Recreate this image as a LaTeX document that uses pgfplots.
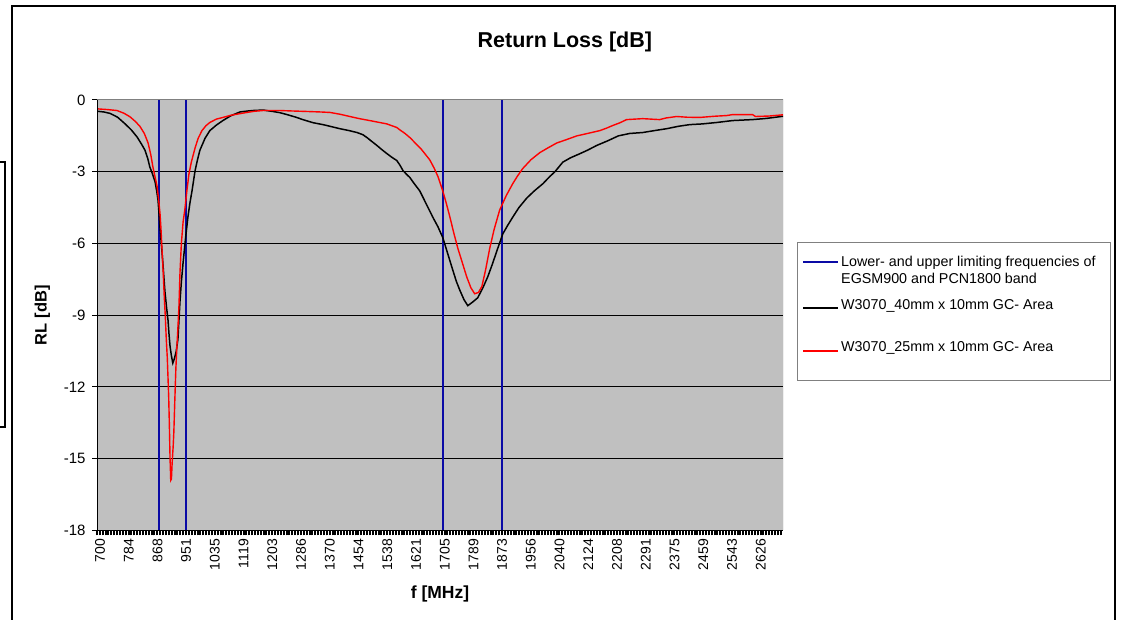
\documentclass[border=0pt]{standalone}
\usepackage{fontspec}
\setmainfont{Liberation Sans}
\usepackage{pgfplots}
\pgfplotsset{compat=1.18}
\definecolor{plotgray}{RGB}{192,192,192}
\definecolor{navyline}{RGB}{10,10,165}
\definecolor{bordergray}{RGB}{128,128,128}
\begin{document}
\begin{tikzpicture}
\useasboundingbox (0pt,0pt) rectangle (1121pt,620pt);
\begin{axis}[
  at={(97pt,89.5pt)}, anchor=south west,
  scale only axis, width=686pt, height=430.5pt,
  xmin=700, xmax=2700, ymin=-18, ymax=0,
  axis background/.style={fill=plotgray},
  axis line style={draw=none},
  tick pos=left, tick align=outside,
  major tick length=5pt, minor tick length=5pt,
  xtick style={black, line width=2pt},
  minor x tick style={black, line width=2pt},
  ytick style={black, line width=1pt},
  xtick={700,783.75,...,2626.25},
  xticklabels={700,784,868,951,1035,1119,1203,1286,1370,1454,1538,1621,1705,1789,1873,1956,2040,2124,2208,2291,2375,2459,2543,2626},
  minor xtick={708.375,716.75,...,2700},
  ytick={-18,-15,...,0},
  yticklabels={-18,-15,-12,-9,-6,-3,0},
  ymajorgrids, grid style={black, line width=1pt},
  xticklabel style={rotate=90, anchor=east, yshift=-3pt, font=\fontsize{14}{16}\selectfont},
  yticklabel style={xshift=-3pt, font=\fontsize{15}{17}\selectfont},
  title={Return Loss [dB]},
  title style={at={(axis description cs:0.682,1.12)}, anchor=center, font=\bfseries\fontsize{21.5}{24}\selectfont},
  xlabel={f [MHz]},
  xlabel style={at={(axis description cs:0.5,-0.148)}, anchor=center, font=\bfseries\fontsize{17.5}{19}\selectfont},
  ylabel={RL [dB]},
  ylabel style={at={(axis description cs:-0.0795,0.5)}, anchor=center, font=\bfseries\fontsize{16.5}{18}\selectfont},
]
\addplot[color=navyline, line width=2pt] coordinates {(880,-18) (880,0)};
\addplot[color=navyline, line width=2pt] coordinates {(960,-18) (960,0)};
\addplot[color=navyline, line width=2pt] coordinates {(1710,-18) (1710,0)};
\addplot[color=navyline, line width=2pt] coordinates {(1880,-18) (1880,0)};
\addplot[color=black, line width=1.5pt] coordinates {
(700,-0.47) (720,-0.5) (738,-0.56) (760,-0.72) (782,-1.0) (800,-1.25) (817,-1.55) (830,-1.85) (840,-2.1) (848,-2.45) (854,-2.8) (862,-3.1) (869,-3.4) (874,-3.8) (878,-4.2) (881,-4.8) (884,-5.4) (888,-6.1) (892,-6.8) (895,-7.4) (898,-8.0) (903,-8.7) (907,-9.2) (910,-9.8) (913,-10.3) (917,-10.7) (921,-11.0) (926,-10.8) (931,-10.5) (936,-10.0) (939,-9.2) (942,-8.4) (946,-7.6) (951,-6.8) (958,-5.8) (965,-4.9) (971,-4.3) (977,-3.8) (986,-2.95) (993,-2.5) (1000,-2.1) (1015,-1.6) (1029,-1.28) (1048,-1.05) (1067,-0.86) (1090,-0.66) (1117,-0.5) (1140,-0.46) (1155,-0.44) (1184,-0.42) (1213,-0.48) (1233,-0.53) (1254,-0.61) (1280,-0.72) (1300,-0.82) (1330,-0.95) (1359,-1.03) (1385,-1.12) (1408,-1.2) (1435,-1.28) (1458,-1.36) (1475,-1.45) (1487,-1.57) (1500,-1.72) (1516,-1.9) (1530,-2.07) (1545,-2.24) (1560,-2.4) (1574,-2.53) (1583,-2.72) (1592,-2.95) (1602,-3.1) (1612,-3.24) (1625,-3.5) (1641,-3.8) (1660,-4.35) (1679,-4.9) (1694,-5.3) (1708,-5.75) (1722,-6.4) (1737,-7.1) (1748,-7.6) (1758,-7.96) (1770,-8.35) (1781,-8.6) (1795,-8.45) (1810,-8.27) (1825,-7.85) (1839,-7.4) (1853,-6.85) (1866,-6.3) (1883,-5.6) (1897,-5.25) (1912,-4.9) (1930,-4.5) (1953,-4.1) (1975,-3.8) (2000,-3.5) (2020,-3.2) (2035,-3.0) (2058,-2.6) (2080,-2.42) (2107,-2.25) (2130,-2.1) (2157,-1.9) (2190,-1.7) (2220,-1.5) (2253,-1.4) (2291,-1.36) (2325,-1.28) (2361,-1.2) (2395,-1.1) (2428,-1.03) (2465,-1.0) (2507,-0.94) (2553,-0.86) (2611,-0.82) (2652,-0.77) (2700,-0.68)
};
\addplot[color=red, line width=1.4pt] coordinates {
(700,-0.37) (730,-0.4) (758,-0.44) (778,-0.55) (796,-0.7) (812,-0.9) (825,-1.1) (838,-1.4) (849,-1.8) (857,-2.3) (863,-2.8) (869,-3.2) (875,-3.6) (880,-4.2) (884,-4.8) (887,-5.5) (890,-6.4) (893,-7.2) (896,-8.2) (899,-9.0) (902,-10.0) (905,-10.8) (907,-11.6) (909,-12.4) (911,-13.6) (913,-15.0) (915,-15.9) (917,-15.85) (919,-15.2) (922,-14.5) (924,-13.9) (927,-12.5) (930,-11.2) (933,-10.3) (936,-9.5) (939,-8.6) (942,-7.2) (946,-6.0) (951,-5.1) (956,-4.6) (962,-3.8) (968,-3.1) (975,-2.6) (986,-2.0) (995,-1.6) (1006,-1.28) (1018,-1.07) (1029,-0.94) (1048,-0.8) (1067,-0.73) (1090,-0.64) (1117,-0.57) (1137,-0.52) (1160,-0.47) (1184,-0.44) (1233,-0.44) (1270,-0.46) (1312,-0.48) (1350,-0.5) (1379,-0.52) (1410,-0.6) (1437,-0.69) (1465,-0.78) (1495,-0.86) (1520,-0.93) (1545,-1.0) (1574,-1.15) (1583,-1.25) (1598,-1.4) (1612,-1.57) (1621,-1.7) (1645,-2.05) (1670,-2.5) (1683,-2.85) (1694,-3.2) (1708,-3.8) (1718,-4.3) (1729,-4.9) (1740,-5.55) (1752,-6.2) (1765,-6.8) (1778,-7.4) (1790,-7.85) (1801,-8.1) (1812,-8.05) (1822,-7.8) (1833,-7.1) (1845,-6.2) (1858,-5.4) (1874,-4.6) (1893,-4.0) (1912,-3.5) (1925,-3.2) (1941,-2.87) (1965,-2.5) (1991,-2.2) (2015,-2.0) (2040,-1.8) (2070,-1.65) (2099,-1.5) (2130,-1.4) (2166,-1.28) (2185,-1.18) (2203,-1.07) (2225,-0.95) (2244,-0.82) (2291,-0.78) (2340,-0.82) (2360,-0.75) (2390,-0.69) (2420,-0.72) (2457,-0.73) (2500,-0.68) (2536,-0.65) (2553,-0.61) (2611,-0.61) (2620,-0.69) (2660,-0.67) (2700,-0.62)
};
\draw[bordergray, line width=1pt] (rel axis cs:0,1) -- (rel axis cs:1,1) -- (rel axis cs:1,0);
\draw[black, line width=1.3pt] (rel axis cs:0,1) -- (rel axis cs:0,0) -- (rel axis cs:1,0);
\end{axis}
\begin{scope}[x=1pt,y=1pt]
% legend
\draw[bordergray, line width=1pt] (797,239) rectangle (1110,377);
\draw[navyline, line width=1.3pt] (803,358) -- (838,358);
\node[anchor=west, align=left, inner sep=0pt, font=\fontsize{14.3}{17}\selectfont] at (841,350) {Lower- and upper limiting frequencies of\\EGSM900 and PCN1800 band};
\draw[black, line width=1.3pt] (803,312) -- (838,312);
\node[anchor=west, inner sep=0pt, font=\fontsize{14.3}{17}\selectfont] at (841,314) {W3070\_40mm x 10mm GC- Area};
\draw[red, line width=1.3pt] (803,269) -- (838,269);
\node[anchor=west, inner sep=0pt, font=\fontsize{14.3}{17}\selectfont] at (841,272) {W3070\_25mm x 10mm GC- Area};
% chart borders
\clip (0,0) rectangle (1121,620);
\draw[black, line width=2pt] (12,-20) rectangle (1115,614);
\draw[black, line width=1.5pt] (-10,458) rectangle (5,193);
\end{scope}
\end{tikzpicture}
\end{document}
